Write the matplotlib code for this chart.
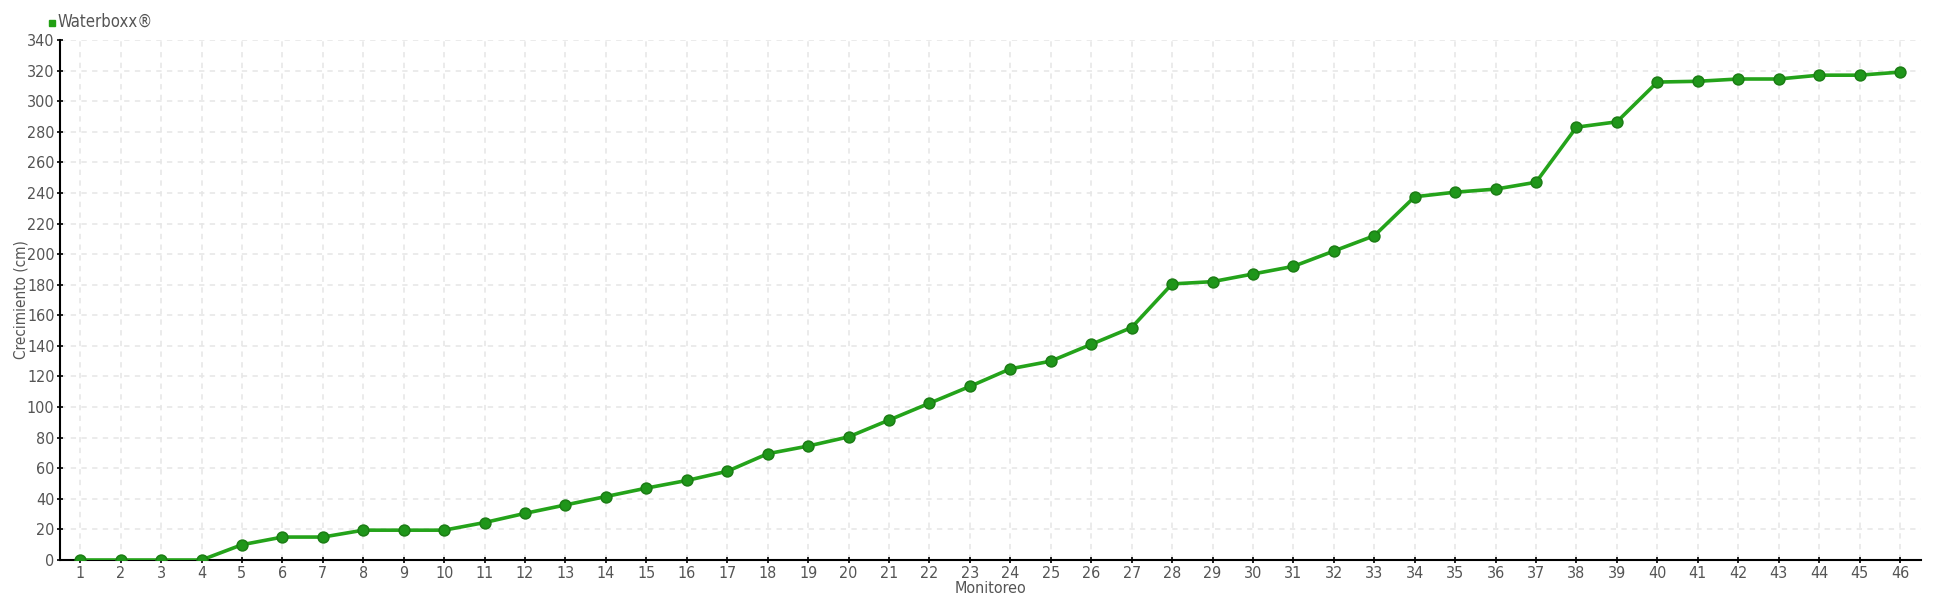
import matplotlib
matplotlib.use("Agg")
import matplotlib.pyplot as plt
from matplotlib.lines import Line2D

monitoreo = list(range(1, 47))
crecimiento = [0, 0, 0, 0, 10, 15, 15, 19.5, 19.5, 19.5,
               24.5, 30.5, 36, 41.5, 47, 52, 58, 69.5, 74.5, 80.5,
               91.5, 102.5, 113.5, 125, 130, 141, 152, 180.5, 182, 187,
               192, 202, 212, 237.5, 240.5, 242.5, 247, 283, 286.5, 312.5,
               313, 314.5, 314.5, 317, 317, 319]
series_name = "Waterboxx®"
y_ticks = list(range(0, 341, 20))

plt.rcParams['font.family'] = ['DejaVu Sans']
plt.rcParams['font.stretch'] = 'condensed'
text_color = '#555555'

fig = plt.figure(figsize=(19.4, 6.0), dpi=100)
ax = fig.add_axes([60/1940, 40/600, (1921-60)/1940, 520/600])

ax.plot(monitoreo, crecimiento, color='#24a31a', lw=2.6, zorder=3,
        marker='o', markersize=7.8, markerfacecolor='#1f961a',
        markeredgecolor='#1b7d14', markeredgewidth=1.1)

ax.set_xlim(0.5, 46.52)
ax.set_ylim(0, 340)
ax.set_xticks(monitoreo)
ax.set_yticks(y_ticks)
ax.grid(True, color='#e6e6e6', linestyle=(0, (3.5, 3.5)), linewidth=1.1, zorder=0)
ax.set_axisbelow(True)

for s in ['top', 'right']:
    ax.spines[s].set_visible(False)
for s in ['left', 'bottom']:
    ax.spines[s].set_color('black')
    ax.spines[s].set_linewidth(1.5)

ax.tick_params(axis='both', direction='inout', length=5, width=1.2,
               colors='black', labelcolor=text_color, labelsize=11.5, pad=1.5)

ax.set_ylabel('Crecimiento (cm)', color=text_color, fontsize=11)
ax.yaxis.set_label_coords(-31/1861, 0.5)
ax.set_xlabel('Monitoreo', color=text_color, fontsize=11.5, labelpad=0)

fig.add_artist(Line2D([52.5/1940], [1 - 23/600], transform=fig.transFigure,
                      linestyle='none', marker='s', markersize=5,
                      markerfacecolor='#22a014', markeredgecolor='#22a014'))
fig.text(58/1940, 1 - 22/600, series_name, color=text_color, fontsize=12,
         ha='left', va='center')

fig.savefig('out.png', dpi=100, facecolor='white')
